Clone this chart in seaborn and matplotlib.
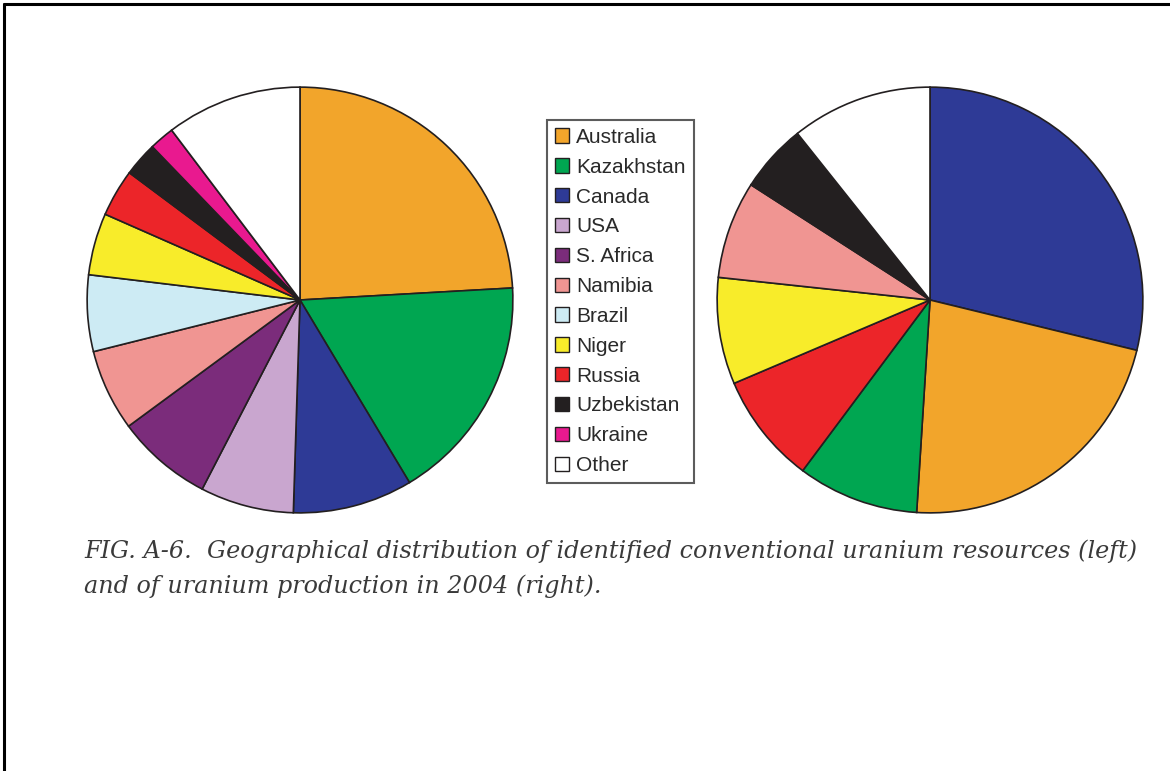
"""
Uranium resources and production pie charts (FIG. A-6 recreation)
"""

import matplotlib
matplotlib.use("Agg")
import matplotlib.pyplot as plt
from matplotlib.patches import Patch
from matplotlib.lines import Line2D
import seaborn as sns

# legend order / colours
countries = ['Australia', 'Kazakhstan', 'Canada', 'USA', 'S. Africa', 'Namibia',
             'Brazil', 'Niger', 'Russia', 'Uzbekistan', 'Ukraine', 'Other']
colors = ['#F2A52B', '#00A651', '#2E3A96', '#C9A6CF', '#7B2C7B', '#F09592',
          '#CDEBF4', '#F8EC2A', '#EC2529', '#231F20', '#E9198F', '#FFFFFF']

# left pie: identified conventional resources (%)
resources_labels = ['Australia', 'Kazakhstan', 'Canada', 'USA', 'S. Africa', 'Namibia',
                    'Brazil', 'Niger', 'Russia', 'Uzbekistan', 'Ukraine', 'Other']
resources_share = [24.1, 17.3, 9.1, 7.1, 7.3, 6.2, 5.8, 4.7, 3.6, 2.6, 1.9, 10.3]

# right pie: production in 2004 (%)
production_labels = ['Canada', 'Australia', 'Kazakhstan', 'Russia', 'Niger',
                     'Namibia', 'Uzbekistan', 'Other']
production_share = [28.8, 22.2, 9.2, 8.4, 8.1, 7.4, 5.2, 10.7]

caption_lines = [
    'FIG. A-6.  Geographical distribution of identified conventional uranium resources (left)',
    'and of uranium production in 2004 (right).',
]

sns.set_style("white")
plt.rcParams['font.family'] = ['Liberation Sans', 'DejaVu Sans']

W, H = 1170, 771
fig = plt.figure(figsize=(W / 100, H / 100), dpi=100)
fig.patch.set_facecolor('white')

color_map = dict(zip(countries, colors))


def px_axes(x0, y0, x1, y1):
    """Axes placed by pixel box (top-left origin)"""
    return fig.add_axes([x0 / W, 1 - y1 / H, (x1 - x0) / W, (y1 - y0) / H])


def draw_pie(ax, labels, values):
    ax.pie(values, colors=[color_map[c] for c in labels], startangle=90,
           counterclock=False, radius=1.0,
           wedgeprops=dict(edgecolor='#231F20', linewidth=1.2))
    ax.set_xlim(-1.01, 1.01)
    ax.set_ylim(-1.01, 1.01)
    ax.set_aspect('equal')
    ax.axis('off')


ax_left = px_axes(85, 85, 515, 515)
draw_pie(ax_left, resources_labels, resources_share)

ax_right = px_axes(715, 85, 1145, 515)
draw_pie(ax_right, production_labels, production_share)

# legend in the middle
handles = [Patch(facecolor=c, edgecolor='#231F20', linewidth=1.0) for c in colors]
leg = fig.legend(handles, countries, loc='upper left',
                 bbox_to_anchor=(547 / W, 1 - 120 / H),
                 frameon=True, fancybox=False, fontsize=15,
                 handlelength=0.68, handleheight=0.68, handletextpad=0.35,
                 labelspacing=0.52, borderpad=0.38, borderaxespad=0)
leg.get_frame().set_edgecolor('#333333')
leg.get_frame().set_linewidth(1.5)
for t in leg.get_texts():
    t.set_color('#2a2a2a')

# caption
for i, line in enumerate(caption_lines):
    fig.text(84 / W, 1 - (558 + 34.5 * i) / H, line, family='DejaVu Serif',
             style='italic', fontsize=17.2, color='#3a3a3a', va='baseline', ha='left')

# page frame: top and left edges
fig.add_artist(Line2D([4 / W, 4 / W], [0, 1 - 4 / H], transform=fig.transFigure,
                      color='black', linewidth=2.2))
fig.add_artist(Line2D([4 / W, 1], [1 - 4 / H, 1 - 4 / H], transform=fig.transFigure,
                      color='black', linewidth=2.2))

fig.savefig('out.png', dpi=100)
plt.close(fig)
